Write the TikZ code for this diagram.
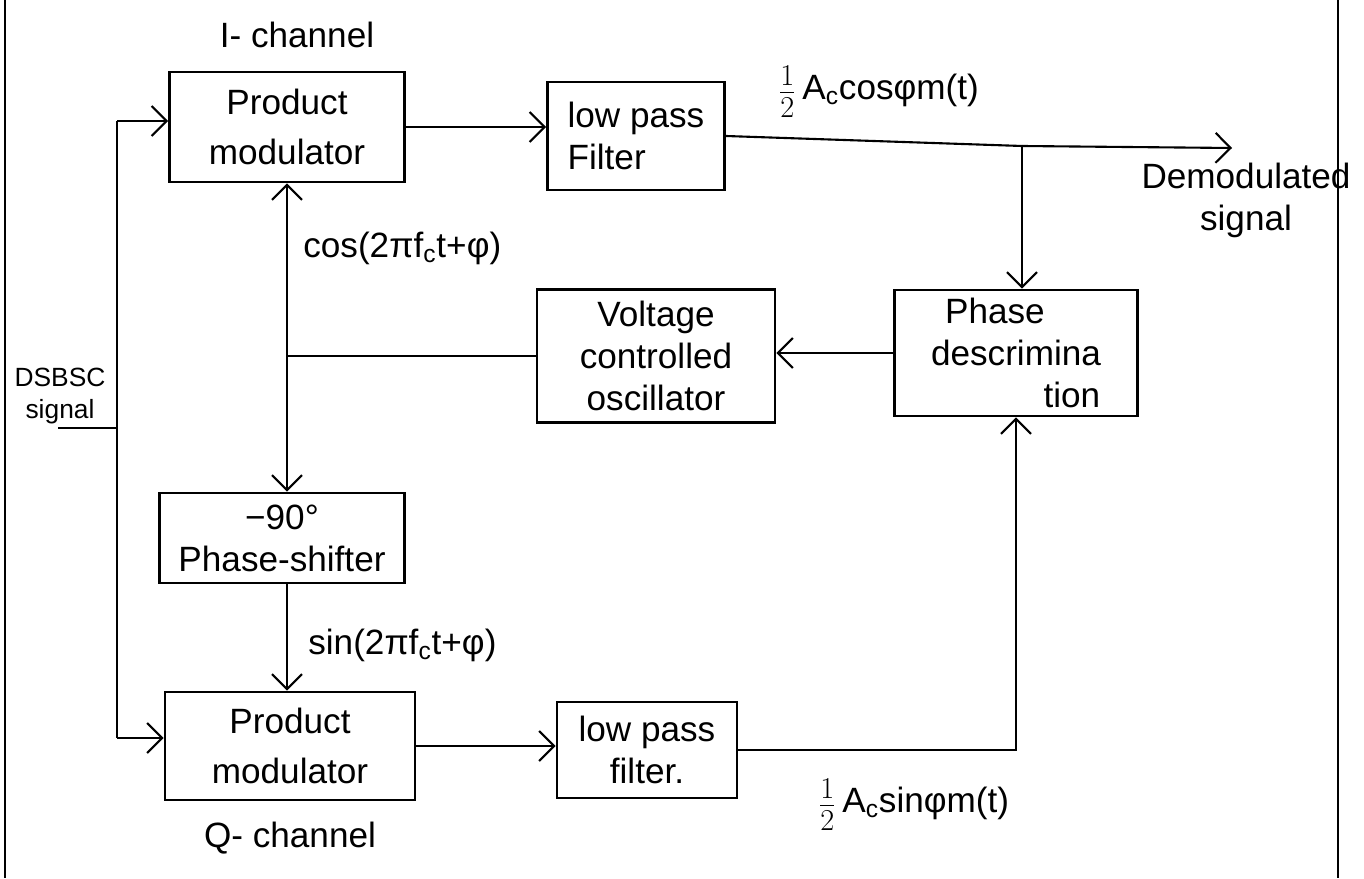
\documentclass[tikz,border=0pt]{standalone}
\usepackage{fontspec}
\setmainfont{Liberation Sans}
\usetikzlibrary{arrows.meta}
\newcommand{\myhalf}{\raisebox{-0.1em}{\fontsize{26}{26}\selectfont$\frac{1}{2}$}}
\begin{document}
\begin{tikzpicture}[x=0.02cm,y=-0.02cm,
  blk/.style={draw,line width=1.6pt,inner sep=2pt,align=center,font=\fontsize{20}{24}\selectfont},
  lbl/.style={font=\fontsize{20}{24}\selectfont,inner sep=0pt},
  wire/.style={line width=1.2pt},
  arr/.style={wire,-{Straight Barb[length=3mm,width=6mm]}},
  frame/.style={line width=0.8pt}]
\useasboundingbox (0,0) rectangle (1364,878);
\fill[white] (0,0) rectangle (1364,878);
% page edges
\draw[frame] (5,0) -- (5,878);
\draw[frame] (1338,0) -- (1338,878);
% blocks
\node[blk,minimum width=4.7cm,minimum height=2.2cm] (pm1) at (287,127) {Product\\[4pt]modulator};
\node[blk,minimum width=3.54cm,minimum height=2.16cm,align=left] (lpf1) at (636,136) {low pass\\Filter};
\node[blk,minimum width=4.76cm,minimum height=2.66cm] (vco) at (656,356) {Voltage\\controlled\\oscillator};
\node[blk,minimum width=4.86cm,minimum height=2.52cm,align=left] (pd) at (1016,353) {\hspace*{0.4em}Phase\\descrimina\\\hspace*{3.2em}tion};
\node[blk,minimum width=4.9cm,minimum height=1.8cm] (ps) at (282,538) {−90°\\Phase-shifter};
\node[blk,minimum width=5.0cm,minimum height=2.16cm] (pm2) at (290,746) {Product\\[4pt]modulator};
\node[blk,minimum width=3.6cm,minimum height=1.92cm] (lpf2) at (647,750) {low pass\\filter.};
% labels
\node[lbl] (ich) at (297,35) {I- channel};
\node[lbl] (qch) at (290,838) {Q- channel};
\node[lbl,anchor=west] (cosl) at (303,248) {cos(2πf\textsubscript{c}t+φ)};
\node[lbl,anchor=west] (sinl) at (308,645) {sin(2πf\textsubscript{c}t+φ)};
\node[lbl,anchor=west] (acos) at (778,92) {\myhalf\,A\textsubscript{c}cosφm(t)};
\node[lbl,anchor=west] (asin) at (818,805) {\myhalf\,A\textsubscript{c}sinφm(t)};
\node[lbl,align=center] (demod) at (1246,200) {Demodulated\\signal};
\node[lbl,align=center,font=\fontsize{15}{18}\selectfont] (dsb) at (60,396) {DSBSC\\signal};
% connectors
\coordinate (in0) at (58,428);
\coordinate (busT) at (117,121);
\coordinate (busB) at (117,738);
\coordinate (busM) at (117,428);
\draw[wire] (in0) -- (busM);
\draw[wire] (busT) -- (busB);
\draw[arr] (busT) -- (busT -| pm1.west);
\draw[arr] (busB) -- (busB -| pm2.west);
\draw[arr] (pm1.east) -- (pm1.east -| lpf1.west);
\coordinate (jn) at (1022,146);
\coordinate (out) at (1232,148);
\draw[wire] (lpf1.east) -- (jn);
\draw[arr] (jn) -- (out);
\draw[arr] (jn) -- (jn |- pd.north);
\draw[arr] (pd.west) -- (pd.west -| vco.east);
\coordinate (vj) at (vco.west -| pm1.south);
\draw[wire] (vco.west) -- (vj);
\draw[arr] (vj) -- (pm1.south);
\draw[arr] (vj) -- (vj |- ps.north);
\draw[arr] (ps.south -| vj) -- (pm2.north -| vj);
\draw[arr] (pm2.east) -- (pm2.east -| lpf2.west);
\draw[arr] (lpf2.east) -| (pd.south);
\end{tikzpicture}
\end{document}
